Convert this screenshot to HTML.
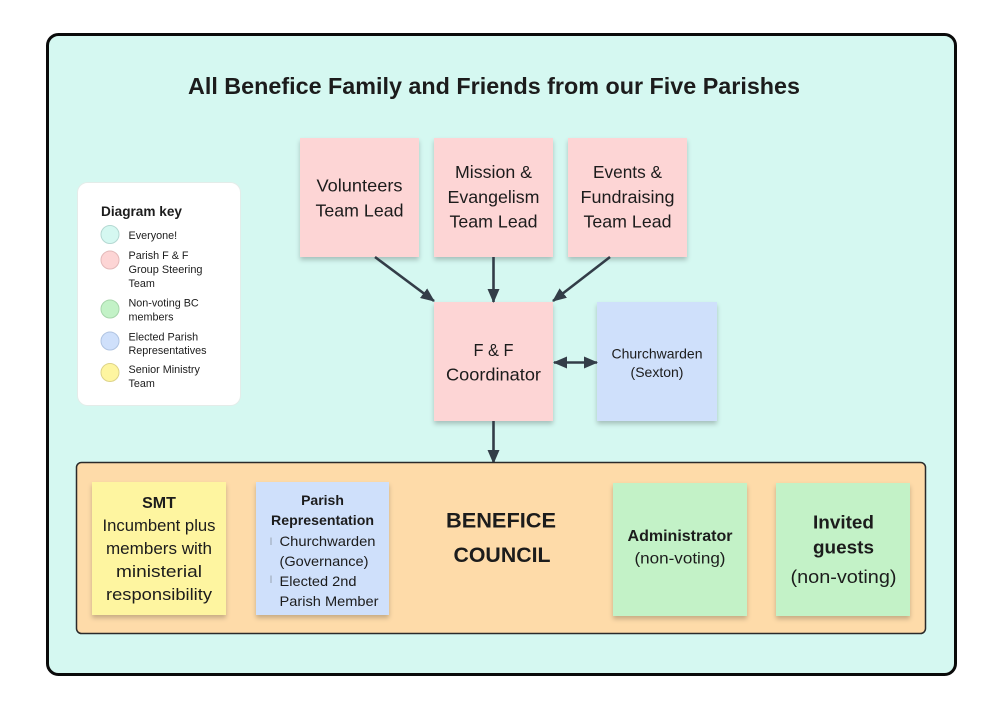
<!DOCTYPE html>
<html>
<head>
<meta charset="utf-8">
<style>
  html,body{margin:0;padding:0;background:#fff;}
  svg{display:block;}
  text{font-family:"Liberation Sans", Arial, sans-serif; fill:#1c1c1c;}
  .b{font-weight:bold;}
</style>
</head>
<body>
<svg width="1004" height="711" viewBox="0 0 1004 711" xmlns="http://www.w3.org/2000/svg">
  <defs>
    <filter id="sh" x="-20%" y="-20%" width="140%" height="150%">
      <feDropShadow dx="0" dy="3" stdDeviation="2.5" flood-color="#000" flood-opacity="0.22"/>
    </filter>
    <marker id="ah" markerUnits="userSpaceOnUse" markerWidth="14" markerHeight="12" refX="13" refY="6" orient="auto">
      <path d="M0,0 L14,6 L0,12 Z" fill="#333d48"/>
    </marker>
    <marker id="ahs" markerUnits="userSpaceOnUse" markerWidth="14" markerHeight="12" refX="1" refY="6" orient="auto">
      <path d="M14,0 L0,6 L14,12 Z" fill="#333d48"/>
    </marker>
  </defs>

  <!-- outer container -->
  <rect x="47.5" y="34.5" width="908" height="640" rx="11" fill="#d5f8f1" stroke="#0a0a0a" stroke-width="3"/>

  <!-- title -->
  <text class="b" x="494" y="94" font-size="23" text-anchor="middle" textLength="612" lengthAdjust="spacingAndGlyphs">All Benefice Family and Friends from our Five Parishes</text>

  <!-- legend -->
  <rect x="77.5" y="182.5" width="163" height="223" rx="10" fill="#ffffff" stroke="#e4ece9" stroke-width="1"/>
  <text class="b" x="101" y="216" font-size="13.5" textLength="81" lengthAdjust="spacingAndGlyphs">Diagram key</text>
  <circle cx="110" cy="234.5" r="9" fill="#d5f8f1" stroke="#b4d8d2" stroke-width="1"/>
  <circle cx="110" cy="260" r="9" fill="#fdd5d5" stroke="#e3b9b9" stroke-width="1"/>
  <circle cx="110" cy="309" r="9" fill="#c3f2c7" stroke="#a7d6ab" stroke-width="1"/>
  <circle cx="110" cy="341" r="9" fill="#cfe0fb" stroke="#b0c4e2" stroke-width="1"/>
  <circle cx="110" cy="372.5" r="9" fill="#fef5a0" stroke="#ddd389" stroke-width="1"/>
  <g font-size="10.8">
    <text x="128.5" y="239">Everyone!</text>
    <text x="128.5" y="259">Parish F &amp; F</text>
    <text x="128.5" y="273" textLength="74" lengthAdjust="spacingAndGlyphs">Group Steering</text>
    <text x="128.5" y="287">Team</text>
    <text x="128.5" y="306.5">Non-voting BC</text>
    <text x="128.5" y="320.5">members</text>
    <text x="128.5" y="340.5">Elected Parish</text>
    <text x="128.5" y="354" textLength="78" lengthAdjust="spacingAndGlyphs">Representatives</text>
    <text x="128.5" y="373">Senior Ministry</text>
    <text x="128.5" y="387">Team</text>
  </g>

  <!-- top sticky notes -->
  <g filter="url(#sh)">
    <rect x="300" y="138" width="119" height="119" fill="#fdd5d5"/>
    <rect x="434" y="138" width="119" height="119" fill="#fdd5d5"/>
    <rect x="568" y="138" width="119" height="119" fill="#fdd5d5"/>
    <rect x="434" y="302" width="119" height="119" fill="#fdd5d5"/>
    <rect x="597" y="302" width="120" height="119" fill="#cfe0fb"/>
  </g>
  <g font-size="17.5" text-anchor="middle">
    <text x="359.5" y="191.5" textLength="86" lengthAdjust="spacingAndGlyphs">Volunteers</text>
    <text x="359.5" y="216.5" textLength="88" lengthAdjust="spacingAndGlyphs">Team Lead</text>
    <text x="493.5" y="178" textLength="77" lengthAdjust="spacingAndGlyphs">Mission &amp;</text>
    <text x="493.5" y="203" textLength="92" lengthAdjust="spacingAndGlyphs">Evangelism</text>
    <text x="493.5" y="227.5" textLength="88" lengthAdjust="spacingAndGlyphs">Team Lead</text>
    <text x="627.5" y="178" textLength="69" lengthAdjust="spacingAndGlyphs">Events &amp;</text>
    <text x="627.5" y="203" textLength="94" lengthAdjust="spacingAndGlyphs">Fundraising</text>
    <text x="627.5" y="227.5" textLength="88" lengthAdjust="spacingAndGlyphs">Team Lead</text>
    <text x="493.5" y="356" textLength="40" lengthAdjust="spacingAndGlyphs">F &amp; F</text>
    <text x="493.5" y="380.5" textLength="95" lengthAdjust="spacingAndGlyphs">Coordinator</text>
  </g>
  <g font-size="14" text-anchor="middle">
    <text x="657" y="358.5" textLength="91" lengthAdjust="spacingAndGlyphs">Churchwarden</text>
    <text x="657" y="377">(Sexton)</text>
  </g>

  <!-- connectors -->
  <g stroke="#333d48" stroke-width="2.6" fill="none">
    <line x1="375" y1="257" x2="434" y2="301" marker-end="url(#ah)"/>
    <line x1="493.5" y1="257" x2="493.5" y2="302" marker-end="url(#ah)"/>
    <line x1="610" y1="257" x2="553" y2="301" marker-end="url(#ah)"/>
    <line x1="554" y1="362.5" x2="597" y2="362.5" marker-start="url(#ahs)" marker-end="url(#ah)"/>
    <line x1="493.5" y1="421" x2="493.5" y2="463" marker-end="url(#ah)"/>
  </g>

  <!-- benefice council container -->
  <rect x="76.5" y="462.5" width="849" height="171" rx="5" fill="#fedba9" stroke="#2a2a2a" stroke-width="1.5"/>

  <g filter="url(#sh)">
    <rect x="92" y="482" width="134" height="133" fill="#fef5a0"/>
    <rect x="256" y="482" width="133" height="133" fill="#cfe0fb"/>
    <rect x="613" y="483" width="134" height="133" fill="#c3f2c7"/>
    <rect x="776" y="483" width="134" height="133" fill="#c3f2c7"/>
  </g>

  <!-- SMT -->
  <g text-anchor="middle" font-size="17">
    <text class="b" x="159" y="508" font-size="16">SMT</text>
    <text x="159" y="531" textLength="113" lengthAdjust="spacingAndGlyphs">Incumbent plus</text>
    <text x="159" y="554" textLength="106" lengthAdjust="spacingAndGlyphs">members with</text>
    <text x="159" y="577" textLength="86" lengthAdjust="spacingAndGlyphs">ministerial</text>
    <text x="159" y="600" textLength="106" lengthAdjust="spacingAndGlyphs">responsibility</text>
  </g>

  <!-- Parish Representation -->
  <g font-size="14">
    <text class="b" x="322.5" y="505" text-anchor="middle">Parish</text>
    <text class="b" x="322.5" y="525" text-anchor="middle" textLength="103" lengthAdjust="spacingAndGlyphs">Representation</text>
    <text x="279.5" y="546" textLength="96" lengthAdjust="spacingAndGlyphs">Churchwarden</text>
    <text x="279.5" y="566" textLength="89" lengthAdjust="spacingAndGlyphs">(Governance)</text>
    <text x="279.5" y="586" textLength="77" lengthAdjust="spacingAndGlyphs">Elected 2nd</text>
    <text x="279.5" y="606" textLength="99" lengthAdjust="spacingAndGlyphs">Parish Member</text>
  </g>
  <line x1="271" y1="537.5" x2="271" y2="545" stroke="#9aa4b0" stroke-width="1"/>
  <line x1="271" y1="575.5" x2="271" y2="583" stroke="#9aa4b0" stroke-width="1"/>

  <!-- BENEFICE COUNCIL -->
  <g text-anchor="middle" font-size="21">
    <text class="b" x="501" y="527.5" textLength="110" lengthAdjust="spacingAndGlyphs">BENEFICE</text>
    <text class="b" x="502" y="562" textLength="97" lengthAdjust="spacingAndGlyphs">COUNCIL</text>
  </g>

  <!-- Administrator -->
  <g text-anchor="middle">
    <text class="b" x="680" y="541" font-size="16" textLength="105" lengthAdjust="spacingAndGlyphs">Administrator</text>
    <text x="680" y="563.5" font-size="15.5" textLength="91" lengthAdjust="spacingAndGlyphs">(non-voting)</text>
  </g>

  <!-- Invited guests -->
  <g text-anchor="middle">
    <text class="b" x="843.5" y="528.5" font-size="18.5" textLength="61" lengthAdjust="spacingAndGlyphs">Invited</text>
    <text class="b" x="843.5" y="553.5" font-size="18.5" textLength="61" lengthAdjust="spacingAndGlyphs">guests</text>
    <text x="843.5" y="583" font-size="18" textLength="106" lengthAdjust="spacingAndGlyphs">(non-voting)</text>
  </g>
</svg>
</body>
</html>
